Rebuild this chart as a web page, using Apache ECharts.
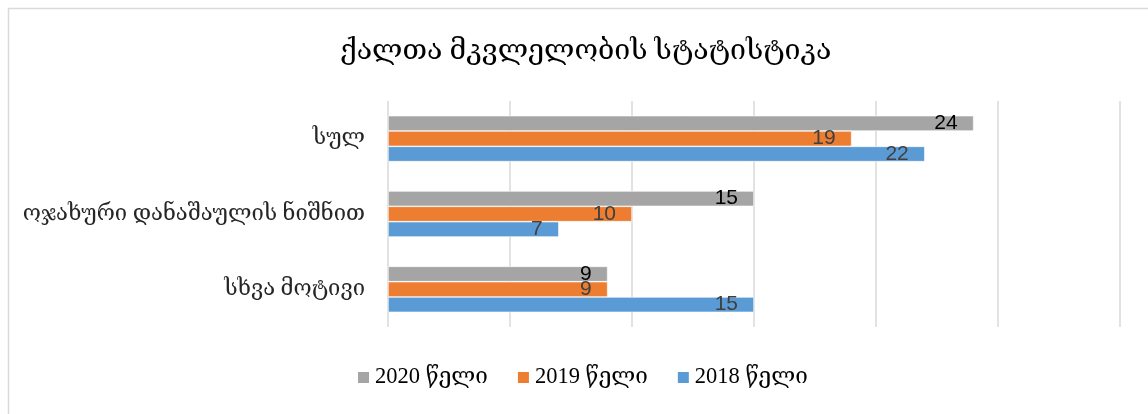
<!DOCTYPE html>
<html>
<head>
<meta charset="utf-8">
<script src="https://cdn.jsdelivr.net/npm/echarts@6/dist/echarts.min.js"></script>
<style>html,body{margin:0;padding:0;background:#fff}#c{width:1148px;height:414px}</style>
</head>
<body>
<div id="c"></div>
<script>
var categories = ['სხვა მოტივი', 'ოჯახური დანაშაულის ნიშნით', 'სულ'];
var seriesNames = ['2020 წელი', '2019 წელი', '2018 წელი'];
var values2020 = [9, 15, 24];
var values2019 = [9, 10, 19];
var values2018 = [15, 7, 22];
var xTicks = [0, 5, 10, 15, 20, 25, 30];

var colors = ['#A5A5A5', '#ED7D31', '#5B9BD5'];
var labelColors = ['#000000', '#404040', '#404040'];
var dataSets = [values2020, values2019, values2018];
var geoFont = "'Liberation Serif', 'DejaVu Serif', serif";
var numFont = "'Liberation Sans', 'Open Sans', sans-serif";

var chart = echarts.init(document.getElementById('c'));
chart.setOption({
  animation: false,
  graphic: [{
    type: 'rect', left: 6, top: 6,
    shape: { width: 1160, height: 430 },
    style: { fill: 'none', stroke: '#d9d9d9', lineWidth: 1.5 },
    z: -1
  }],
  title: {
    text: 'ქალთა მკვლელობის სტატისტიკა',
    left: 335, top: 32,
    textStyle: { fontFamily: geoFont, fontSize: 28.5, fontWeight: 'normal', color: '#000' }
  },
  legend: {
    data: seriesNames,
    bottom: 20, left: 351,
    itemWidth: 13, itemHeight: 13, itemGap: 28,
    icon: 'rect',
    textStyle: { fontFamily: geoFont, fontSize: 22.5, color: '#000' }
  },
  grid: { left: 388, right: 28, top: 101, bottom: 87, containLabel: false },
  xAxis: {
    type: 'value', min: xTicks[0], max: xTicks[xTicks.length - 1], interval: 5,
    axisLabel: { show: false }, axisLine: { show: false }, axisTick: { show: false },
    splitLine: { show: true, lineStyle: { color: '#d9d9d9', width: 1.5 } }
  },
  yAxis: {
    type: 'category', data: categories,
    axisLine: { show: false }, axisTick: { show: false },
    axisLabel: { margin: 23, fontFamily: geoFont, fontSize: 22, color: '#262626' }
  },
  series: seriesNames.map(function (n, i) {
    return {
      name: n, type: 'bar', data: dataSets[i],
      barGap: '0%', barCategoryGap: '39%',
      itemStyle: { color: colors[i], borderColor: '#ffffff', borderWidth: 0.6 },
      label: {
        show: true, position: 'insideRight', distance: 16,
        fontFamily: numFont, fontSize: 21, color: labelColors[i]
      }
    };
  })
});
</script>
</body>
</html>
